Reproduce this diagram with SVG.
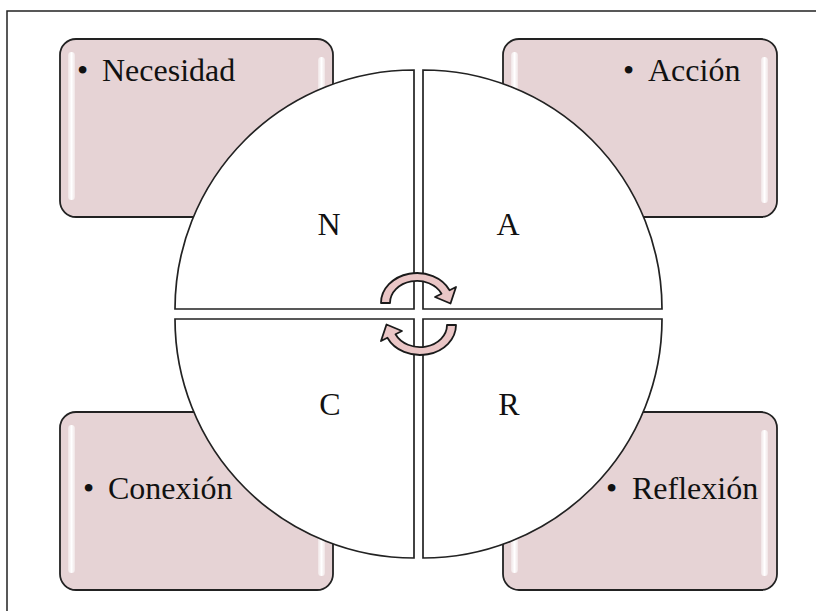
<svg xmlns="http://www.w3.org/2000/svg" width="816" height="611" viewBox="0 0 816 611">
<defs>
<linearGradient id="hl" x1="0" y1="0" x2="1" y2="0">
<stop offset="0" stop-color="#ffffff" stop-opacity="0.4"/>
<stop offset="0.5" stop-color="#ffffff" stop-opacity="1"/>
<stop offset="1" stop-color="#ffffff" stop-opacity="0.4"/>
</linearGradient>
</defs>
<style>
.box{fill:#e6d3d5;stroke:#222;stroke-width:1.8}
.hl{fill:url(#hl)}
.q{fill:#ffffff;stroke:#222;stroke-width:1.7;stroke-linejoin:miter}
.arr{fill:#eac6c6;stroke:#1a1a1a;stroke-width:1.8;stroke-linejoin:round}
.t{font-family:"Liberation Serif","Times New Roman",serif;font-size:32px;fill:#111}
.frame{fill:none;stroke:#222;stroke-width:1.5}
</style>
<rect width="816" height="611" fill="#ffffff"/>
<path class="frame" d="M7,611 V11 H816"/>

<g id="box-necesidad">
<rect class="box" x="60" y="39" width="273" height="178" rx="16"/>
<rect class="hl" x="68" y="52" width="7" height="148" rx="3.5"/>
<rect class="hl" x="318" y="57" width="7" height="145" rx="3.5"/>
<text class="t" y="81"><tspan x="77">•</tspan><tspan x="102">Necesidad</tspan></text>
</g>
<g id="box-accion">
<rect class="box" x="503" y="39" width="274" height="178" rx="16"/>
<rect class="hl" x="511" y="52" width="7" height="148" rx="3.5"/>
<rect class="hl" x="761" y="57" width="7" height="146" rx="3.5"/>
<text class="t" y="81"><tspan x="623">•</tspan><tspan x="648">Acción</tspan></text>
</g>
<g id="box-conexion">
<rect class="box" x="60" y="412" width="273" height="178" rx="16"/>
<rect class="hl" x="68" y="425" width="7" height="148" rx="3.5"/>
<rect class="hl" x="318" y="430" width="7" height="146" rx="3.5"/>
<text class="t" y="499"><tspan x="83">•</tspan><tspan x="108">Conexión</tspan></text>
</g>
<g id="box-reflexion">
<rect class="box" x="503" y="412" width="274" height="178" rx="16"/>
<rect class="hl" x="511" y="425" width="7" height="148" rx="3.5"/>
<rect class="hl" x="761" y="430" width="7" height="146" rx="3.5"/>
<text class="t" y="499"><tspan x="606">•</tspan><tspan x="632">Reflexión</tspan></text>
</g>

<g id="quad-n">
<path class="q" d="M414,309 H175 A239,239 0 0 1 414,70 Z"/>
<text class="t" x="329" y="235" text-anchor="middle">N</text>
</g>
<g id="quad-a">
<path class="q" d="M423,309 V70 A239,239 0 0 1 662,309 Z"/>
<text class="t" x="508" y="235" text-anchor="middle">A</text>
</g>
<g id="quad-c">
<path class="q" d="M414,319 V558 A239,239 0 0 1 175,319 Z"/>
<text class="t" x="330" y="415" text-anchor="middle">C</text>
</g>
<g id="quad-r">
<path class="q" d="M423,319 H662 A239,239 0 0 1 423,558 Z"/>
<text class="t" x="509" y="415" text-anchor="middle">R</text>
</g>

<g id="connectors">
<path class="arr" d="M381,303 A36,30 0 0 1 449.6,290.3 L456,287 L450.5,303.5 L435,297 L441.5,293.7 A27,22 0 0 0 390,303 Z"/>
<path class="arr" transform="rotate(180 418.5 314)" d="M381,303 A36,30 0 0 1 449.6,290.3 L456,287 L450.5,303.5 L435,297 L441.5,293.7 A27,22 0 0 0 390,303 Z"/>
</g>
</svg>
